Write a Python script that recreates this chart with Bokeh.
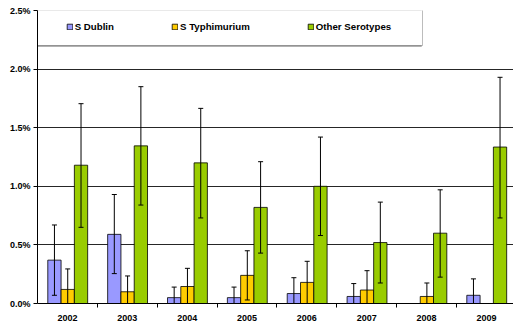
import numpy as np
from bokeh.plotting import figure
from bokeh.models import (Range1d, FixedTicker, PrintfTickFormatter, ColumnDataSource,
                          Whisker, TeeHead, Legend, LegendItem, BoxAnnotation)
from bokeh.embed import file_html
from bokeh.resources import INLINE

years = ["2002", "2003", "2004", "2005", "2006", "2007", "2008", "2009"]

# values in percent
dublin    = [0.37, 0.59, 0.05, 0.05, 0.085, 0.06, 0.0, 0.07]
dublin_lo = [0.07, 0.255, 0.0, 0.0, 0.0, 0.0, None, 0.0]
dublin_hi = [0.67, 0.93, 0.14, 0.14, 0.22, 0.17, None, 0.21]

typh    = [0.12, 0.10, 0.145, 0.24, 0.18, 0.115, 0.06, 0.0]
typh_lo = [0.0, 0.0, 0.0, 0.03, 0.0, 0.0, 0.0, None]
typh_hi = [0.295, 0.235, 0.30, 0.45, 0.36, 0.28, 0.175, None]

other    = [1.18, 1.345, 1.20, 0.82, 1.0, 0.52, 0.60, 1.335]
other_lo = [0.65, 0.84, 0.73, 0.43, 0.58, 0.175, 0.225, 0.73]
other_hi = [1.705, 1.85, 1.665, 1.21, 1.42, 0.865, 0.97, 1.93]

y_ticks = [0, 0.5, 1.0, 1.5, 2.0, 2.5]

series = [
    ("S Dublin", dublin, dublin_lo, dublin_hi, "#9999FF", -0.217),
    ("S Typhimurium", typh, typh_lo, typh_hi, "#FFCC00", 0.005),
    ("Other Serotypes", other, other_lo, other_hi, "#99CC00", 0.227),
]
bar_w = 0.222

centers = np.arange(len(years)) + 0.5

p = figure(width=513, height=323, output_backend="svg", toolbar_location=None,
           x_range=Range1d(0, 7.952), y_range=Range1d(0, 2.5),
           min_border_left=37, min_border_right=0, min_border_top=10, min_border_bottom=19)
p.outline_line_color = None
p.background_fill_color = "white"

FONT = "Liberation Sans"

# axes
p.xaxis.ticker = FixedTicker(ticks=list(centers), minor_ticks=list(np.arange(1, len(years))))
p.xaxis.major_label_overrides = {float(c): y for c, y in zip(centers, years)}
p.xaxis.major_tick_out = 0
p.xaxis.major_tick_in = 0
p.xaxis.minor_tick_out = 4
p.xaxis.minor_tick_in = 0
p.xaxis.minor_tick_line_color = "black"
p.xaxis.axis_line_color = "black"
p.xaxis.major_label_standoff = 7
p.xaxis.major_label_text_font = FONT
p.xaxis.major_label_text_font_style = "bold"
p.xaxis.major_label_text_font_size = "9px"
p.xaxis.major_label_text_color = "black"

p.yaxis.ticker = FixedTicker(ticks=y_ticks, minor_ticks=[])
p.yaxis.formatter = PrintfTickFormatter(format="%.1f%%")
p.yaxis.major_tick_out = 4
p.yaxis.major_tick_in = 0
p.yaxis.major_tick_line_color = "black"
p.yaxis.axis_line_color = "black"
p.yaxis.major_label_standoff = 3
p.yaxis.major_label_text_font = FONT
p.yaxis.major_label_text_font_style = "bold"
p.yaxis.major_label_text_font_size = "9px"
p.yaxis.major_label_text_color = "black"

p.xgrid.visible = False
p.ygrid.grid_line_color = "black"
p.ygrid.grid_line_alpha = 0.85
p.ygrid.grid_line_width = 1

# legend box
shadow = BoxAnnotation(left=-2, right=384, top=293, bottom=257,
                       left_units="screen", right_units="screen",
                       top_units="screen", bottom_units="screen",
                       fill_color="#888888", fill_alpha=1, line_color="#888888",
                       level="underlay", editable=False)
box = BoxAnnotation(left=-1, right=385, top=294, bottom=258,
                    left_units="screen", right_units="screen",
                    top_units="screen", bottom_units="screen",
                    fill_color="white", fill_alpha=1, line_color="#222222", line_width=1,
                    level="underlay", editable=False)
p.add_layout(shadow)
p.add_layout(box)

items = []
for name, vals, lo, hi, color, off in series:
    xs = centers + off
    src = ColumnDataSource(dict(x=xs, top=vals))
    r = p.vbar(x="x", top="top", width=bar_w, source=src, fill_color=color,
               line_color="black", line_width=0.8)
    items.append(LegendItem(label=name, renderers=[r]))
    ex = [x for x, l in zip(xs, lo) if l is not None]
    el = [l for l in lo if l is not None]
    eh = [h for h in hi if h is not None]
    esrc = ColumnDataSource(dict(x=ex, lo=el, hi=eh))
    w = Whisker(base="x", lower="lo", upper="hi", source=esrc, dimension="height",
                line_color="black", line_width=1, level="overlay",
                upper_head=TeeHead(size=5, line_color="black", line_width=1),
                lower_head=TeeHead(size=5, line_color="black", line_width=1))
    p.add_layout(w)

legend = Legend(items=items, orientation="horizontal", location=(28.7, 271.3),
                padding=0, margin=0, spacing=57, glyph_width=7, glyph_height=7,
                label_standoff=2, label_height=10,
                label_text_font=FONT, label_text_font_style="bold",
                label_text_font_size="9.7px", label_text_color="black",
                border_line_color=None, background_fill_alpha=0)
p.add_layout(legend)

open("out.html", "w").write(file_html(p, INLINE))
